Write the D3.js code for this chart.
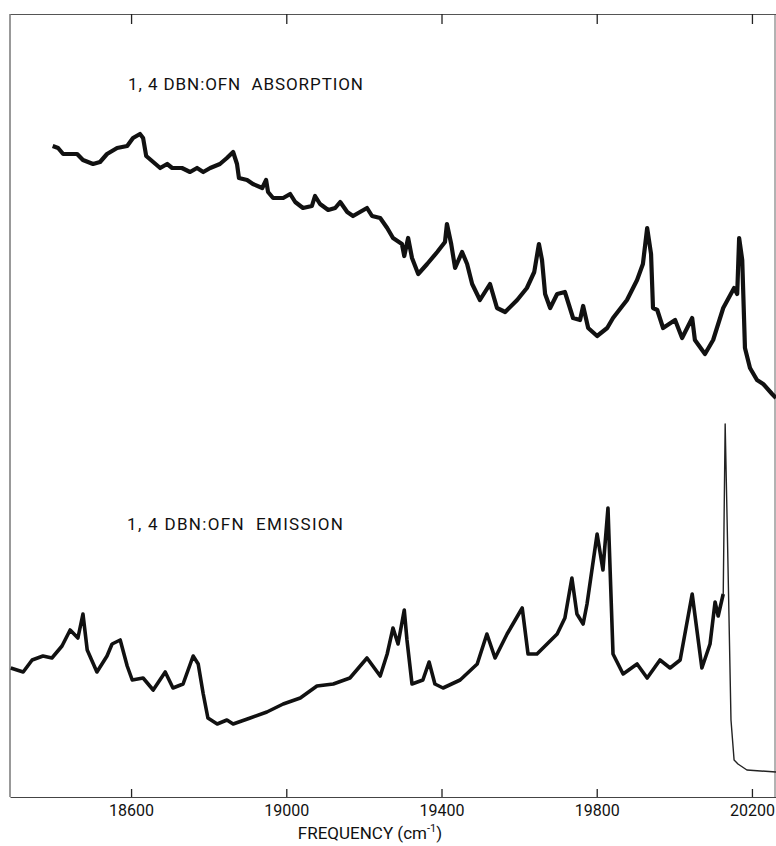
<!DOCTYPE html>
<html>
<head>
<meta charset="utf-8">
<script src="https://cdn.jsdelivr.net/npm/d3@7"></script>
<style>
  body { margin: 0; background: #fff; }
  text { font-family: Roboto, "Liberation Sans", sans-serif; font-weight: 400; fill: #111; }
</style>
</head>
<body>
<svg width="776" height="846"></svg>
<script>
// absorption trace (frequency in cm-1, signal in arbitrary units)
const absFreq = [18398,18412,18425,18461,18476,18502,18520,18538,18564,18590,
  18605,18623,18631,18639,18657,18675,18693,18706,18731,18752,
  18770,18786,18804,18829,18847,18863,18873,18878,18899,18914,
  18938,18948,18953,18966,18992,19010,19023,19043,19066,19074,
  19087,19108,19126,19139,19157,19172,19190,19208,19221,19242,
  19260,19275,19298,19304,19314,19324,19340,19363,19389,19409,
  19414,19425,19435,19453,19466,19479,19499,19525,19543,19564,
  19595,19620,19639,19651,19659,19667,19680,19698,19718,19739,
  19757,19765,19778,19801,19827,19842,19878,19904,19919,19930,
  19940,19945,19956,19971,20002,20020,20046,20053,20079,20100,
  20126,20154,20162,20167,20175,20182,20195,20213,20229,20252,20262];
const absVal = [326,325,322,322,319,317,318,322,325,326,
  330,332,330,321,318,315,317,315,315,313,
  315,313,315,317,320,323,317,310,309,307,
  305,309,303,300,300,302,298,295,296,301,
  297,294,295,298,293,291,293,295,291,290,
  285,280,277,271,280,270,262,267,273,278,
  287,277,265,273,267,257,249,257,245,243,
  249,255,263,277,269,252,245,252,253,240,
  239,246,235,231,235,240,249,259,267,285,
  272,245,244,235,239,230,240,229,222,229,
  245,255,252,280,269,225,215,209,207,202,200];

// emission trace
const emFreq = [18290,18322,18345,18373,18396,18422,18443,18463,18476,18487,
  18512,18538,18551,18572,18590,18603,18631,18657,18688,18708,
  18734,18760,18773,18786,18798,18822,18847,18863,18907,18950,
  18992,19036,19079,19121,19164,19208,19242,19260,19275,19288,
  19304,19311,19324,19352,19368,19383,19404,19448,19492,19517,
  19538,19569,19608,19623,19646,19672,19698,19718,19736,19749,
  19765,19775,19801,19816,19829,19842,19868,19904,19930,19963,
  19989,20015,20046,20071,20092,20105,20113,20126,20131,20136,
  20146,20154,20164,20187,20262];
const emVal = [65,63,69,71,70,76,84,80,92,74,
  63,71,77,79,66,59,60,54,63,55,
  57,71,67,52,40,37,39,37,40,43,
  47,50,56,57,60,70,61,72,85,77,
  94,79,57,59,68,57,55,59,67,82,
  70,82,95,72,72,77,82,90,110,92,
  87,97,132,114,145,72,62,67,60,69,
  65,69,102,65,77,98,91,102,187,139,
  39,19,17,14,13];

const tickValues = [18600, 19000, 19400, 19800, 20200];
const labels = ["1, 4 DBN:OFN  ABSORPTION", "1, 4 DBN:OFN  EMISSION"];

const svg = d3.select("svg");
const axisY = 797, topY = 14, leftX = 10, rightX = 775;

const x = d3.scaleLinear().domain([18288, 20262]).range([10, 776]);
const y = d3.scaleLinear().domain([0, 392]).range([798, 14]);

const absData = absFreq.map((f, i) => ({f: f, v: absVal[i]}));
const emData = emFreq.map((f, i) => ({f: f, v: emVal[i]}));

const line = d3.line().x(d => x(d.f)).y(d => y(d.v));

// frame
svg.append("line").attr("x1", leftX).attr("x2", leftX).attr("y1", topY).attr("y2", axisY)
  .attr("stroke", "#555").attr("stroke-width", 1.2);
svg.append("line").attr("x1", rightX).attr("x2", rightX).attr("y1", topY).attr("y2", axisY)
  .attr("stroke", "#666").attr("stroke-width", 1);

const bottomAxis = svg.append("g").attr("transform", `translate(0,${axisY})`)
  .call(d3.axisBottom(x).tickValues(tickValues).tickSize(-8).tickSizeOuter(0)
    .tickPadding(8).tickFormat(d3.format("d")));
bottomAxis.select(".domain").attr("stroke", "#444").attr("stroke-width", 1.2);
bottomAxis.selectAll(".tick line").attr("stroke", "#222").attr("stroke-width", 1.3);
bottomAxis.selectAll(".tick text").attr("font-size", 16).attr("font-family", null).attr("fill", "#111");

const topAxis = svg.append("g").attr("transform", `translate(0,${topY})`)
  .call(d3.axisTop(x).tickValues(tickValues).tickSize(-10).tickSizeOuter(0).tickFormat(""));
topAxis.select(".domain").attr("stroke", "#555").attr("stroke-width", 1.2);
topAxis.selectAll(".tick line").attr("stroke", "#222").attr("stroke-width", 1.3);

// traces
svg.append("path").datum(absData).attr("d", line)
  .attr("fill", "none").attr("stroke", "#111").attr("stroke-width", 4.2)
  .attr("stroke-linejoin", "round");

const cut = emFreq.indexOf(20126);
svg.append("path").datum(emData.slice(0, cut + 1)).attr("d", line)
  .attr("fill", "none").attr("stroke", "#111").attr("stroke-width", 3.6)
  .attr("stroke-linejoin", "round");
svg.append("path").datum(emData.slice(cut)).attr("d", line)
  .attr("fill", "none").attr("stroke", "#222").attr("stroke-width", 1.4)
  .attr("stroke-linejoin", "round");

// labels
svg.append("text").attr("x", 128).attr("y", 90).attr("font-size", 17)
  .attr("textLength", 235).style("white-space", "pre").text(labels[0]);
svg.append("text").attr("x", 127).attr("y", 530).attr("font-size", 17)
  .attr("textLength", 216).style("white-space", "pre").text(labels[1]);

const xl = svg.append("text").attr("x", 370).attr("y", 839).attr("font-size", 17)
  .attr("text-anchor", "middle");
xl.append("tspan").text("FREQUENCY (cm");
xl.append("tspan").attr("font-size", 11).attr("dy", -7).text("-1");
xl.append("tspan").attr("dy", 7).text(")");
</script>
</body>
</html>
